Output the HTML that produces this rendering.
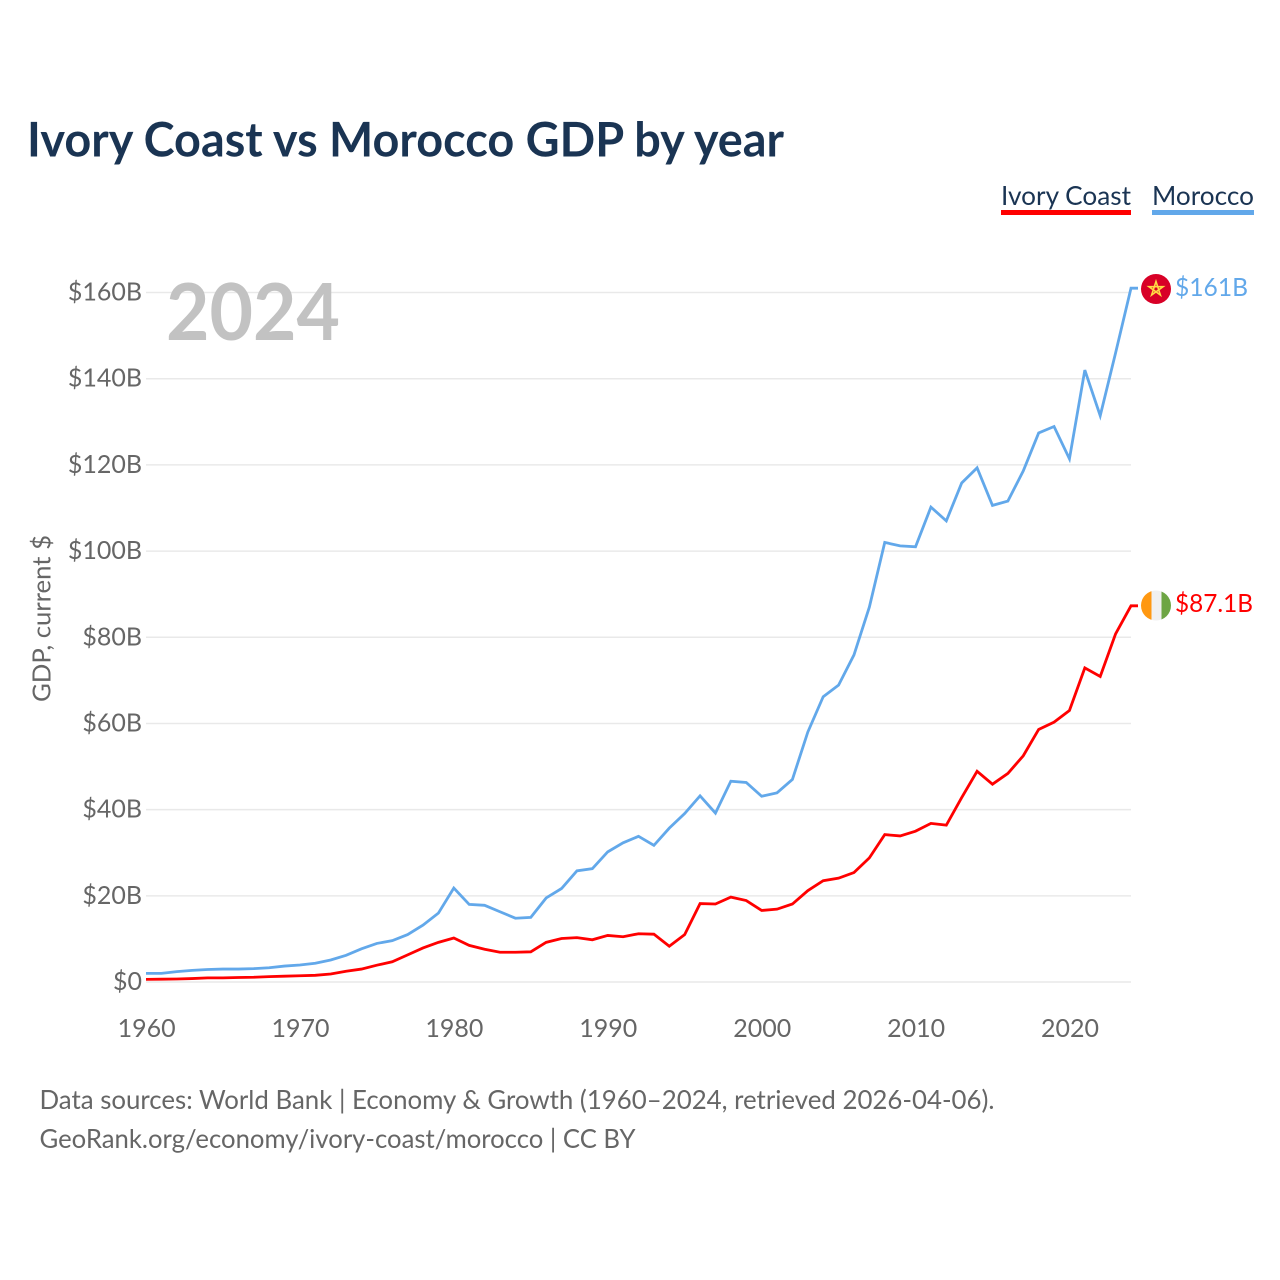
<!DOCTYPE html>
<html lang="en">
<head>
<meta charset="utf-8">
<title>Ivory Coast vs Morocco GDP by year</title>
<style>
html,body{margin:0;padding:0;background:#fff;}
svg{display:block;}
text{font-family:"Lato","Carlito","Liberation Sans",sans-serif;}
</style>
</head>
<body>
<svg id="chart" xmlns="http://www.w3.org/2000/svg" width="1280" height="1280" viewBox="0 0 1280 1280">
  <rect x="0" y="0" width="1280" height="1280" fill="#ffffff"/>
  <text x="27" y="156.5" font-size="47.5" font-weight="700" fill="#1a3453" textLength="757" lengthAdjust="spacingAndGlyphs">Ivory Coast vs Morocco GDP by year</text>

  <g>
    <text x="1001" y="205" font-size="26" fill="#1a3453" textLength="130" lengthAdjust="spacingAndGlyphs">Ivory Coast</text>
    <rect x="1001" y="210" width="130" height="5" fill="#ff0000"/>
  </g>
  <g>
    <text x="1152" y="205" font-size="26" fill="#1a3453" textLength="102" lengthAdjust="spacingAndGlyphs">Morocco</text>
    <rect x="1152" y="210" width="102" height="5" fill="#62a8ea"/>
  </g>

  <g id="grid"></g>
  <g id="yLabels"></g>
  <g id="xLabels"></g>

  <text x="166" y="340" font-size="79" font-weight="700" fill="#c2c2c2" textLength="174" lengthAdjust="spacingAndGlyphs">2024</text>
  <text transform="translate(50.5,702) rotate(-90)" x="0" y="0" font-size="25.5" fill="#666666" textLength="167" lengthAdjust="spacingAndGlyphs">GDP, current $</text>

  <g id="series"></g>

  <g id="flagMorocco">
    <circle cx="1156" cy="289" r="15" fill="#d80027"/>
    <polygon points="1156,281.5 1160.4,295 1148.9,286.7 1163.1,286.7 1151.6,295" fill="none" stroke="#ffda44" stroke-width="1.6"/>
  </g>
  <g id="flagIvory">
    <clipPath id="ivoryClip"><circle cx="1156" cy="605.5" r="15"/></clipPath>
    <g clip-path="url(#ivoryClip)">
      <rect x="1141" y="590" width="10.5" height="31" fill="#ff9811"/>
      <rect x="1151.5" y="590" width="10" height="31" fill="#f0f0f0"/>
      <rect x="1161.5" y="590" width="10" height="31" fill="#6da544"/>
    </g>
  </g>

  <text id="endMorocco" x="1175" y="296" font-size="25" fill="#62a8ea" textLength="73" lengthAdjust="spacingAndGlyphs">$161B</text>
  <text id="endIvory" x="1175" y="612" font-size="25" fill="#ff0000" textLength="78" lengthAdjust="spacingAndGlyphs">$87.1B</text>

  <text x="39.5" y="1109" font-size="26" fill="#666666" textLength="955" lengthAdjust="spacingAndGlyphs">Data sources: World Bank | Economy &amp; Growth (1960–2024, retrieved 2026-04-06).</text>
  <text x="39.5" y="1148" font-size="26" fill="#666666" textLength="596" lengthAdjust="spacingAndGlyphs">GeoRank.org/economy/ivory-coast/morocco | CC BY</text>
</svg>
<script>
const years = [1960,1961,1962,1963,1964,1965,1966,1967,1968,1969,1970,1971,1972,1973,1974,1975,1976,1977,1978,1979,1980,1981,1982,1983,1984,1985,1986,1987,1988,1989,1990,1991,1992,1993,1994,1995,1996,1997,1998,1999,2000,2001,2002,2003,2004,2005,2006,2007,2008,2009,2010,2011,2012,2013,2014,2015,2016,2017,2018,2019,2020,2021,2022,2023,2024];
const moroccoGdp = [2.0,2.0,2.4,2.7,2.9,3.0,3.0,3.1,3.3,3.7,3.95,4.35,5.1,6.2,7.7,8.95,9.6,11.0,13.2,16.0,21.8,18.0,17.8,16.3,14.8,15.0,19.5,21.7,25.8,26.3,30.2,32.3,33.8,31.7,35.7,39.1,43.2,39.2,46.6,46.3,43.1,43.9,47.0,58.0,66.2,68.9,75.9,87.0,102.0,101.2,101.0,110.2,107.0,115.8,119.3,110.6,111.6,118.6,127.4,128.9,121.4,142.0,131.4,146.0,161.0];
const ivoryCoastGdp = [0.6,0.65,0.7,0.8,0.95,0.95,1.05,1.1,1.25,1.35,1.45,1.55,1.85,2.5,3.0,3.9,4.7,6.3,7.9,9.2,10.2,8.5,7.6,6.9,6.9,7.0,9.2,10.1,10.3,9.8,10.8,10.5,11.2,11.1,8.3,11.0,18.2,18.1,19.7,18.9,16.6,16.9,18.1,21.2,23.5,24.1,25.4,28.8,34.2,33.9,35.0,36.8,36.4,42.8,48.9,45.9,48.4,52.5,58.6,60.3,63.0,72.9,70.9,80.8,87.3];
const yTicks = [0,20,40,60,80,100,120,140,160];
const yTickLabels = ['$0','$20B','$40B','$60B','$80B','$100B','$120B','$140B','$160B'];
const xTicks = [1960,1970,1980,1990,2000,2010,2020];
const xTickLabels = ['1960','1970','1980','1990','2000','2010','2020'];

const NS = 'http://www.w3.org/2000/svg';
const plotLeft = 146, plotRight = 1131, plotZero = 982, plotTop160 = 292.5;
function xScale(year){ return plotLeft + (year - 1960) * (plotRight - plotLeft) / (2024 - 1960); }
function yScale(value){ return plotZero - value * (plotZero - plotTop160) / 160; }

const grid = document.getElementById('grid');
const yLabels = document.getElementById('yLabels');
const xLabels = document.getElementById('xLabels');
const seriesGroup = document.getElementById('series');

yTicks.forEach(function(tick, i){
  const line = document.createElementNS(NS, 'line');
  
  
  line.setAttribute('x1', plotLeft);
  line.setAttribute('x2', plotRight);
  line.setAttribute('y1', yScale(tick));
  line.setAttribute('y2', yScale(tick));
  line.setAttribute('stroke', '#e9e9e9');
  line.setAttribute('stroke-width', '1.5');
  grid.appendChild(line);

  const label = document.createElementNS(NS, 'text');
  
  
  label.setAttribute('x', 142);
  label.setAttribute('y', yScale(tick) + 8);
  label.setAttribute('text-anchor', 'end');
  label.setAttribute('font-size', '25');
  label.setAttribute('fill', '#666666');
  label.textContent = yTickLabels[i];
  yLabels.appendChild(label);
});

xTicks.forEach(function(tick, i){
  const label = document.createElementNS(NS, 'text');
  
  
  label.setAttribute('x', xScale(tick) + 0.6);
  label.setAttribute('y', 1037);
  label.setAttribute('text-anchor', 'middle');
  label.setAttribute('font-size', '25');
  label.setAttribute('fill', '#666666');
  label.textContent = xTickLabels[i];
  xLabels.appendChild(label);
});

function linePath(values){
  let d = values.map(function(v, i){
    return (i ? 'L' : 'M') + xScale(years[i]).toFixed(2) + ' ' + yScale(v).toFixed(2);
  }).join(' ');
  d += ' L' + (xScale(years[years.length - 1]) + 7).toFixed(2) + ' ' + yScale(values[values.length - 1]).toFixed(2);
  return d;
}

const moroccoLine = document.createElementNS(NS, 'path');


moroccoLine.setAttribute('d', linePath(moroccoGdp));
moroccoLine.setAttribute('fill', 'none');
moroccoLine.setAttribute('stroke', '#62a8ea');
moroccoLine.setAttribute('stroke-width', '2.8');
moroccoLine.setAttribute('stroke-linejoin', 'miter');
seriesGroup.appendChild(moroccoLine);

const ivoryLine = document.createElementNS(NS, 'path');


ivoryLine.setAttribute('d', linePath(ivoryCoastGdp));
ivoryLine.setAttribute('fill', 'none');
ivoryLine.setAttribute('stroke', '#ff0000');
ivoryLine.setAttribute('stroke-width', '2.8');
ivoryLine.setAttribute('stroke-linejoin', 'miter');
seriesGroup.appendChild(ivoryLine);
</script>
</body>
</html>
